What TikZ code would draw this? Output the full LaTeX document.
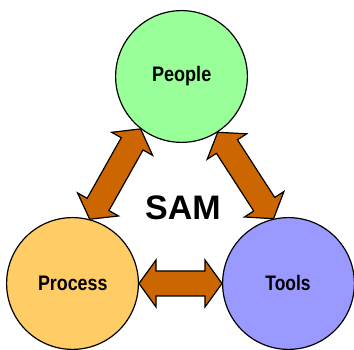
\documentclass[tikz,border=0pt]{standalone}
\usepackage{fontspec}
\setmainfont{Liberation Sans}
\usepackage{graphicx}
\usetikzlibrary{calc}
\definecolor{pgreen}{HTML}{99FF99}
\definecolor{porange}{HTML}{FFCC66}
\definecolor{pblue}{HTML}{9999FF}
\definecolor{arrowbrown}{HTML}{CC6600}
\tikzset{
  ball/.style={circle, draw=black, line width=1.2pt, minimum size=131.8pt, inner sep=0pt},
  lbl/.style={anchor=base, inner sep=0pt, font=\bfseries\fontsize{21}{25}\selectfont},
  blockarrow/.style={fill=arrowbrown, draw=black, line width=1.2pt, line join=miter,
    to path={let \p1=(\tikztostart), \p2=(\tikztotarget),
      \n1={atan2(\y2-\y1,\x2-\x1)}, \n2={veclen(\x2-\x1,\y2-\y1)} in
      (\p1)
      -- ($(\p1)+(\n1:17)+(\n1+90:23.5)$)
      -- ($(\p1)+(\n1:17)+(\n1+90:12.5)$)
      -- ($(\p1)+(\n1:\n2-17)+(\n1+90:12.5)$)
      -- ($(\p1)+(\n1:\n2-17)+(\n1+90:23.5)$)
      -- (\p2)
      -- ($(\p1)+(\n1:\n2-17)+(\n1-90:23.5)$)
      -- ($(\p1)+(\n1:\n2-17)+(\n1-90:12.5)$)
      -- ($(\p1)+(\n1:17)+(\n1-90:12.5)$)
      -- ($(\p1)+(\n1:17)+(\n1-90:23.5)$)
      -- cycle}}
}
\begin{document}
\begin{tikzpicture}[x=1pt,y=1pt]
\useasboundingbox (0,0) rectangle (354,350);
\node[ball, fill=pgreen] (people) at (181.5,273.5) {};
\node[ball, fill=porange] (proc) at (72.5,66.5) {};
\node[ball, fill=pblue] (tools) at (288.5,66.5) {};
\node[lbl] (tpeople) at (181.7,268.5) {\scalebox{0.86}[1]{People}};
\node[lbl] (tproc) at (72.8,59) {\scalebox{0.85}[1]{Process}};
\node[lbl] (ttools) at (288,59) {\scalebox{0.83}[1]{Tools}};
\node[anchor=base, inner sep=0pt, font=\bfseries\fontsize{34}{40}\selectfont] (sam) at (183,130) {SAM};
\draw[blockarrow] (proc.75) to (people.232);
\draw[blockarrow] (people.303) to (tools.103);
\draw[blockarrow] (proc.0) to (tools.180);
\end{tikzpicture}
\end{document}
